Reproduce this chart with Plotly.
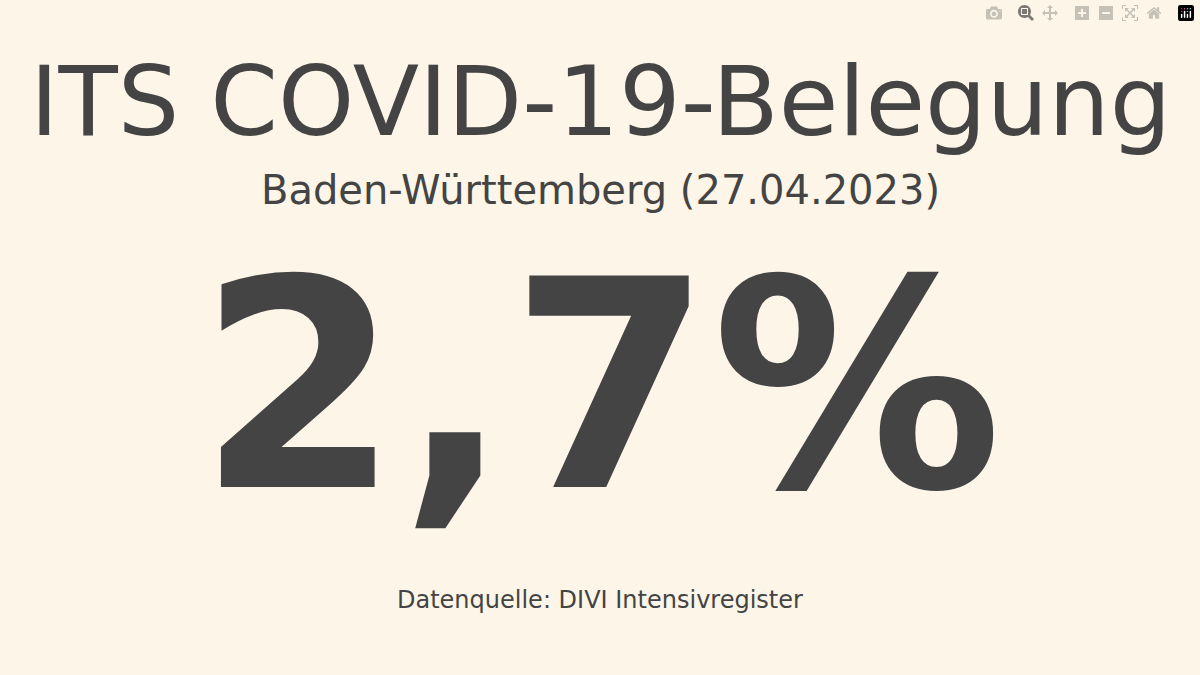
import plotly.graph_objects as go

title = "ITS COVID-19-Belegung"
region = "Baden-Württemberg"
date = "27.04.2023"
value = 2.7
source = "Datenquelle: DIVI Intensivregister"

bg = "#fdf6e8"
fg = "#444444"
font = "DejaVu Sans"

fig = go.Figure()
vtxt = f"{value:.1f}".replace(".", ",") + "%"
anns = [
    (title, 0.849, 97, False),
    (f"{region} ({date})", 0.719, 40, False),
    (f"<b>{vtxt}</b>", 0.428, 290, True),
    (source, 0.111, 24, False),
]
for t, y, s, b in anns:
    fig.add_annotation(text=t, x=0.5, y=y, xref="paper", yref="paper",
                       xanchor="center", yanchor="middle", showarrow=False,
                       font=dict(family=font, size=s, color=fg))
fig.update_layout(width=1200, height=675, paper_bgcolor=bg, plot_bgcolor=bg,
                  margin=dict(l=0, r=0, t=0, b=0),
                  xaxis=dict(visible=False), yaxis=dict(visible=False))
fig.write_html("out.html",
               post_script="document.body.style.margin='0';document.body.style.background='" + bg + "';")
